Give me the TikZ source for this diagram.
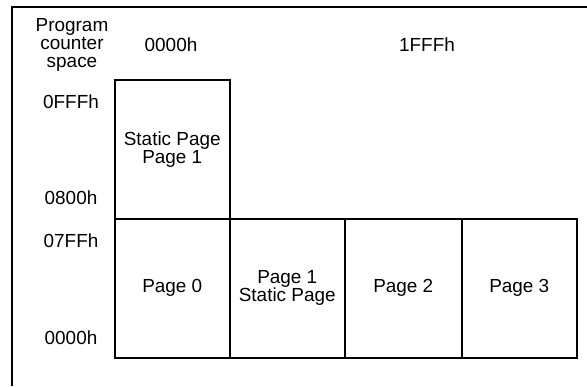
\documentclass[tikz,border=0pt]{standalone}
\usepackage{fontspec}
\setmainfont{Liberation Sans}
\begin{document}
\begin{tikzpicture}[x=1bp,y=-1bp,
  lbl/.style={font=\fontsize{19}{18}\selectfont, align=center, inner sep=0pt},
  addr/.style={lbl, anchor=base},
  box/.style={draw, line width=1.5bp, minimum height=139bp, inner sep=0pt,
    font=\fontsize{19}{18}\selectfont, align=center, anchor=north west}]
\useasboundingbox (0,0) rectangle (587,386);
\fill[white] (0,0) rectangle (587,386);
\coordinate (fbl) at (12,386);
\coordinate (ftl) at (12,7);
\coordinate (ftr) at (587,7);
\draw[line width=2bp] (fbl) -- (ftl) -- (ftr);
\node[lbl] (pcs) at (72,45) {Program\\counter\\space};
\node[addr] (top0) at (171,51.5) {0000h};
\node[addr] (top1) at (427,51.5) {1FFFh};
\node[addr] (a0fff) at (71,108) {0FFFh};
\node[addr] (a0800) at (71,204) {0800h};
\node[addr] (a07ff) at (71,247) {07FFh};
\node[addr] (a0000) at (71,344) {0000h};
\node[box, minimum width=115bp] (static) at (114,79) {Static Page\\Page 1};
\node[box, minimum width=115bp] (p0) at (114,218) {Page 0};
\node[box, minimum width=115bp] (p1) at (229,218) {Page 1\\Static Page};
\node[box, minimum width=117bp] (p2) at (344,218) {Page 2};
\node[box, minimum width=115bp] (p3) at (461,218) {Page 3};
\end{tikzpicture}
\end{document}
